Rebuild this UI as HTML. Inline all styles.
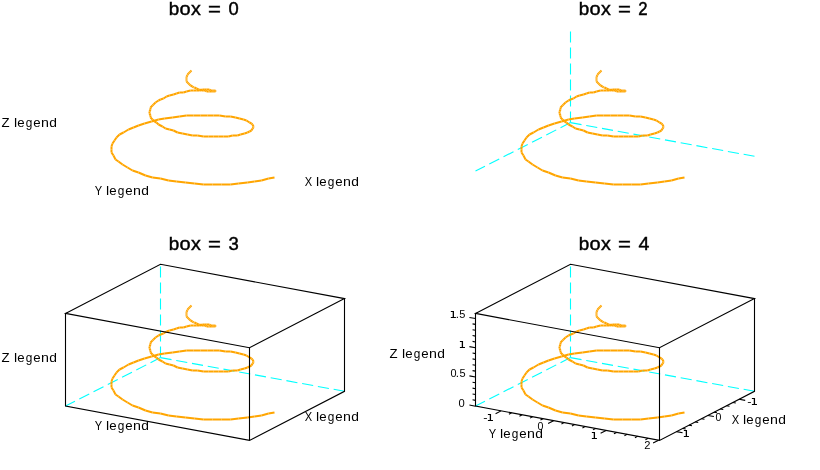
<!DOCTYPE html><html><head><meta charset="utf-8"><style>html,body{margin:0;padding:0;background:#fff;}svg{display:block;will-change:transform}text{font-family:"Liberation Sans",sans-serif;}</style></head><body>
<svg width="820" height="470" viewBox="0 0 820 470">
<rect width="820" height="470" fill="#fff"/>
<text transform="translate(168.85,14.80) scale(1.0292,1.0000)" font-size="18.30" font-weight="normal" fill="#000" stroke="#000" stroke-width="0.437">b</text>
<text transform="translate(179.46,14.80) scale(1.0914,1.0000)" font-size="18.30" font-weight="normal" fill="#000" stroke="#000" stroke-width="0.412">o</text>
<text transform="translate(191.05,14.80) scale(1.0768,1.0000)" font-size="18.30" font-weight="normal" fill="#000" stroke="#000" stroke-width="0.418">x</text>
<text transform="translate(207.98,14.80) scale(1.2080,1.0000)" font-size="18.30" font-weight="normal" fill="#000" stroke="#000" stroke-width="0.373">=</text>
<text transform="translate(228.44,14.80) scale(1.0025,1.0000)" font-size="18.30" font-weight="normal" fill="#000" stroke="#000" stroke-width="0.449">0</text>
<text transform="translate(578.85,14.80) scale(1.0292,1.0000)" font-size="18.30" font-weight="normal" fill="#000" stroke="#000" stroke-width="0.437">b</text>
<text transform="translate(589.46,14.80) scale(1.0914,1.0000)" font-size="18.30" font-weight="normal" fill="#000" stroke="#000" stroke-width="0.412">o</text>
<text transform="translate(601.05,14.80) scale(1.0768,1.0000)" font-size="18.30" font-weight="normal" fill="#000" stroke="#000" stroke-width="0.418">x</text>
<text transform="translate(617.98,14.80) scale(1.2080,1.0000)" font-size="18.30" font-weight="normal" fill="#000" stroke="#000" stroke-width="0.373">=</text>
<text transform="translate(638.31,14.80) scale(0.9152,1.0000)" font-size="18.30" font-weight="normal" fill="#000" stroke="#000" stroke-width="0.492">2</text>
<text transform="translate(168.85,249.80) scale(1.0292,1.0000)" font-size="18.30" font-weight="normal" fill="#000" stroke="#000" stroke-width="0.437">b</text>
<text transform="translate(179.46,249.80) scale(1.0914,1.0000)" font-size="18.30" font-weight="normal" fill="#000" stroke="#000" stroke-width="0.412">o</text>
<text transform="translate(191.05,249.80) scale(1.0768,1.0000)" font-size="18.30" font-weight="normal" fill="#000" stroke="#000" stroke-width="0.418">x</text>
<text transform="translate(207.98,249.80) scale(1.2080,1.0000)" font-size="18.30" font-weight="normal" fill="#000" stroke="#000" stroke-width="0.373">=</text>
<text transform="translate(228.45,249.80) scale(1.0108,1.0000)" font-size="18.30" font-weight="normal" fill="#000" stroke="#000" stroke-width="0.445">3</text>
<text transform="translate(578.85,249.80) scale(1.0292,1.0000)" font-size="18.30" font-weight="normal" fill="#000" stroke="#000" stroke-width="0.437">b</text>
<text transform="translate(589.46,249.80) scale(1.0914,1.0000)" font-size="18.30" font-weight="normal" fill="#000" stroke="#000" stroke-width="0.412">o</text>
<text transform="translate(601.05,249.80) scale(1.0768,1.0000)" font-size="18.30" font-weight="normal" fill="#000" stroke="#000" stroke-width="0.418">x</text>
<text transform="translate(617.98,249.80) scale(1.2080,1.0000)" font-size="18.30" font-weight="normal" fill="#000" stroke="#000" stroke-width="0.373">=</text>
<text transform="translate(638.58,249.80) scale(1.0703,1.0000)" font-size="18.30" font-weight="normal" fill="#000" stroke="#000" stroke-width="0.420">4</text>
<g stroke="#ffa500" stroke-width="2.0" stroke-linecap="butt"><path d="M274.5 177.5L268.5 178.5"/><path d="M268.5 178.5L261.5 180.5"/><path d="M261.5 180.5L254.5 181.5"/><path d="M254.5 181.5L247.5 182.5"/><path d="M247.5 182.5L238.5 183.5"/><path d="M238.5 183.5L230.5 184.5"/><path d="M230.5 184.5L221.5 184.5"/><path d="M221.5 184.5L212.5 184.5"/><path d="M212.5 184.5L203.5 184.5"/><path d="M203.5 184.5L194.5 183.5"/><path d="M194.5 183.5L185.5 182.5"/><path d="M185.5 182.5L176.5 181.5"/><path d="M176.5 181.5L168.5 180.5"/><path d="M168.5 180.5L160.5 178.5"/><path d="M160.5 178.5L152.5 177.5"/><path d="M152.5 177.5L145.5 175.5"/><path d="M145.5 175.5L138.5 172.5"/><path d="M138.5 172.5L132.5 170.5"/><path d="M132.5 170.5L127.5 167.5"/><path d="M127.5 167.5L122.5 164.5"/><path d="M122.5 164.5L118.5 161.5"/><path d="M118.5 161.5L115.5 159.5"/><path d="M115.5 159.5L113.5 155.5"/><path d="M113.5 155.5L111.5 152.5"/><path d="M111.5 152.5L111.5 149.5"/><path d="M111.5 149.5L111.5 146.5"/><path d="M111.5 146.5L112.5 143.5"/><path d="M112.5 143.5L114.5 140.5"/><path d="M114.5 140.5L116.5 137.5"/><path d="M116.5 137.5L119.5 134.5"/><path d="M119.5 134.5L123.5 132.5"/><path d="M123.5 132.5L128.5 129.5"/><path d="M128.5 129.5L133.5 127.5"/><path d="M133.5 127.5L138.5 125.5"/><path d="M138.5 125.5L144.5 123.5"/><path d="M144.5 123.5L151.5 121.5"/><path d="M151.5 121.5L158.5 119.5"/><path d="M158.5 119.5L164.5 118.5"/><path d="M164.5 118.5L172.5 117.5"/><path d="M172.5 117.5L179.5 116.5"/><path d="M179.5 116.5L186.5 115.5"/><path d="M186.5 115.5L193.5 115.5"/><path d="M193.5 115.5L200.5 115.5"/><path d="M200.5 115.5L207.5 115.5"/><path d="M207.5 115.5L213.5 115.5"/><path d="M213.5 115.5L219.5 115.5"/><path d="M219.5 115.5L225.5 116.5"/><path d="M225.5 116.5L230.5 116.5"/><path d="M230.5 116.5L235.5 117.5"/><path d="M235.5 117.5L239.5 118.5"/><path d="M239.5 118.5L243.5 119.5"/><path d="M243.5 119.5L246.5 120.5"/><path d="M246.5 120.5L249.5 122.5"/><path d="M249.5 122.5L251.5 123.5"/><path d="M251.5 123.5L252.5 124.5"/><path d="M252.5 124.5L253.5 126.5"/><path d="M253.5 126.5L253.5 127.5"/><path d="M253.5 127.5L252.5 128.5"/><path d="M252.5 128.5L251.5 130.5"/><path d="M251.5 130.5L249.5 131.5"/><path d="M249.5 131.5L247.5 132.5"/><path d="M247.5 132.5L244.5 133.5"/><path d="M244.5 133.5L240.5 134.5"/><path d="M240.5 134.5L237.5 135.5"/><path d="M237.5 135.5L232.5 135.5"/><path d="M232.5 135.5L228.5 136.5"/><path d="M228.5 136.5L223.5 136.5"/><path d="M223.5 136.5L218.5 136.5"/><path d="M218.5 136.5L213.5 136.5"/><path d="M213.5 136.5L208.5 136.5"/><path d="M208.5 136.5L203.5 136.5"/><path d="M203.5 136.5L197.5 135.5"/><path d="M197.5 135.5L192.5 135.5"/><path d="M192.5 135.5L187.5 134.5"/><path d="M187.5 134.5L182.5 133.5"/><path d="M182.5 133.5L177.5 132.5"/><path d="M177.5 132.5L173.5 130.5"/><path d="M173.5 130.5L169.5 129.5"/><path d="M169.5 129.5L165.5 128.5"/><path d="M165.5 128.5L162.5 126.5"/><path d="M162.5 126.5L158.5 124.5"/><path d="M158.5 124.5L156.5 122.5"/><path d="M156.5 122.5L154.5 121.5"/><path d="M154.5 121.5L152.5 119.5"/><path d="M152.5 119.5L150.5 117.5"/><path d="M150.5 117.5L150.5 115.5"/><path d="M150.5 115.5L149.5 113.5"/><path d="M149.5 113.5L149.5 111.5"/><path d="M149.5 111.5L150.5 109.5"/><path d="M150.5 109.5L150.5 107.5"/><path d="M150.5 107.5L152.5 105.5"/><path d="M152.5 105.5L153.5 104.5"/><path d="M153.5 104.5L155.5 102.5"/><path d="M155.5 102.5L158.5 100.5"/><path d="M158.5 100.5L160.5 99.5"/><path d="M160.5 99.5L163.5 98.5"/><path d="M163.5 98.5L166.5 96.5"/><path d="M166.5 96.5L169.5 95.5"/><path d="M169.5 95.5L173.5 94.5"/><path d="M173.5 94.5L176.5 93.5"/><path d="M176.5 93.5L179.5 92.5"/><path d="M179.5 92.5L183.5 92.5"/><path d="M183.5 92.5L186.5 91.5"/><path d="M186.5 91.5L190.5 90.5"/><path d="M190.5 90.5L193.5 90.5"/><path d="M193.5 90.5L196.5 90.5"/><path d="M196.5 90.5L199.5 90.5"/><path d="M199.5 90.5L202.5 89.5"/><path d="M202.5 89.5L204.5 89.5"/><path d="M204.5 89.5L206.5 89.5"/><path d="M206.5 89.5L209.5 89.5"/><path d="M209.5 89.5L210.5 90.5"/><path d="M210.5 90.5L212.5 90.5"/><path d="M212.5 90.5L213.5 90.5"/><path d="M213.5 90.5L214.5 90.5"/><path d="M214.5 90.5L215.5 90.5"/><path d="M215.5 90.5L215.5 90.5"/><path d="M215.5 90.5L215.5 91.5"/><path d="M215.5 91.5L215.5 91.5"/><path d="M215.5 91.5L214.5 91.5"/><path d="M214.5 91.5L214.5 91.5"/><path d="M214.5 91.5L213.5 91.5"/><path d="M213.5 91.5L212.5 91.5"/><path d="M212.5 91.5L211.5 91.5"/><path d="M211.5 91.5L209.5 91.5"/><path d="M209.5 91.5L208.5 91.5"/><path d="M208.5 91.5L206.5 91.5"/><path d="M206.5 91.5L205.5 90.5"/><path d="M205.5 90.5L203.5 90.5"/><path d="M203.5 90.5L201.5 90.5"/><path d="M201.5 90.5L199.5 89.5"/><path d="M199.5 89.5L198.5 89.5"/><path d="M198.5 89.5L196.5 88.5"/><path d="M196.5 88.5L194.5 87.5"/><path d="M194.5 87.5L193.5 87.5"/><path d="M193.5 87.5L192.5 86.5"/><path d="M192.5 86.5L190.5 85.5"/><path d="M190.5 85.5L189.5 84.5"/><path d="M189.5 84.5L188.5 83.5"/><path d="M188.5 83.5L188.5 83.5"/><path d="M188.5 83.5L187.5 82.5"/><path d="M187.5 82.5L186.5 81.5"/><path d="M186.5 81.5L186.5 80.5"/><path d="M186.5 80.5L186.5 79.5"/><path d="M186.5 79.5L186.5 78.5"/><path d="M186.5 78.5L186.5 77.5"/><path d="M186.5 77.5L186.5 76.5"/><path d="M186.5 76.5L186.5 76.5"/><path d="M186.5 76.5L187.5 75.5"/><path d="M187.5 75.5L187.5 74.5"/><path d="M187.5 74.5L188.5 73.5"/><path d="M188.5 73.5L188.5 73.5"/><path d="M188.5 73.5L189.5 72.5"/><path d="M189.5 72.5L190.5 71.5"/><path d="M190.5 71.5L190.5 71.5"/><path d="M190.5 71.5L191.5 70.5"/><path d="M191.5 70.5L191.5 70.5"/></g>
<path d="M570.50,122.60L570.50,29.30" stroke="#00ffff" stroke-width="1.1" stroke-dasharray="11.2 4.8" fill="none"/><path d="M570.50,122.60L475.50,171.10" stroke="#00ffff" stroke-width="1.1" stroke-dasharray="11.2 4.8" fill="none"/><path d="M570.50,122.60L754.50,156.30" stroke="#00ffff" stroke-width="1.1" stroke-dasharray="11.2 4.8" fill="none"/>
<g stroke="#ffa500" stroke-width="2.0" stroke-linecap="butt"><path d="M684.5 177.5L678.5 178.5"/><path d="M678.5 178.5L671.5 180.5"/><path d="M671.5 180.5L664.5 181.5"/><path d="M664.5 181.5L657.5 182.5"/><path d="M657.5 182.5L648.5 183.5"/><path d="M648.5 183.5L640.5 184.5"/><path d="M640.5 184.5L631.5 184.5"/><path d="M631.5 184.5L622.5 184.5"/><path d="M622.5 184.5L613.5 184.5"/><path d="M613.5 184.5L604.5 183.5"/><path d="M604.5 183.5L595.5 182.5"/><path d="M595.5 182.5L586.5 181.5"/><path d="M586.5 181.5L578.5 180.5"/><path d="M578.5 180.5L570.5 178.5"/><path d="M570.5 178.5L562.5 177.5"/><path d="M562.5 177.5L555.5 175.5"/><path d="M555.5 175.5L548.5 172.5"/><path d="M548.5 172.5L542.5 170.5"/><path d="M542.5 170.5L537.5 167.5"/><path d="M537.5 167.5L532.5 164.5"/><path d="M532.5 164.5L528.5 161.5"/><path d="M528.5 161.5L525.5 159.5"/><path d="M525.5 159.5L523.5 155.5"/><path d="M523.5 155.5L521.5 152.5"/><path d="M521.5 152.5L521.5 149.5"/><path d="M521.5 149.5L521.5 146.5"/><path d="M521.5 146.5L522.5 143.5"/><path d="M522.5 143.5L524.5 140.5"/><path d="M524.5 140.5L526.5 137.5"/><path d="M526.5 137.5L529.5 134.5"/><path d="M529.5 134.5L533.5 132.5"/><path d="M533.5 132.5L538.5 129.5"/><path d="M538.5 129.5L543.5 127.5"/><path d="M543.5 127.5L548.5 125.5"/><path d="M548.5 125.5L554.5 123.5"/><path d="M554.5 123.5L561.5 121.5"/><path d="M561.5 121.5L568.5 119.5"/><path d="M568.5 119.5L574.5 118.5"/><path d="M574.5 118.5L582.5 117.5"/><path d="M582.5 117.5L589.5 116.5"/><path d="M589.5 116.5L596.5 115.5"/><path d="M596.5 115.5L603.5 115.5"/><path d="M603.5 115.5L610.5 115.5"/><path d="M610.5 115.5L617.5 115.5"/><path d="M617.5 115.5L623.5 115.5"/><path d="M623.5 115.5L629.5 115.5"/><path d="M629.5 115.5L635.5 116.5"/><path d="M635.5 116.5L640.5 116.5"/><path d="M640.5 116.5L645.5 117.5"/><path d="M645.5 117.5L649.5 118.5"/><path d="M649.5 118.5L653.5 119.5"/><path d="M653.5 119.5L656.5 120.5"/><path d="M656.5 120.5L659.5 122.5"/><path d="M659.5 122.5L661.5 123.5"/><path d="M661.5 123.5L662.5 124.5"/><path d="M662.5 124.5L663.5 126.5"/><path d="M663.5 126.5L663.5 127.5"/><path d="M663.5 127.5L662.5 128.5"/><path d="M662.5 128.5L661.5 130.5"/><path d="M661.5 130.5L659.5 131.5"/><path d="M659.5 131.5L657.5 132.5"/><path d="M657.5 132.5L654.5 133.5"/><path d="M654.5 133.5L650.5 134.5"/><path d="M650.5 134.5L647.5 135.5"/><path d="M647.5 135.5L642.5 135.5"/><path d="M642.5 135.5L638.5 136.5"/><path d="M638.5 136.5L633.5 136.5"/><path d="M633.5 136.5L628.5 136.5"/><path d="M628.5 136.5L623.5 136.5"/><path d="M623.5 136.5L618.5 136.5"/><path d="M618.5 136.5L613.5 136.5"/><path d="M613.5 136.5L607.5 135.5"/><path d="M607.5 135.5L602.5 135.5"/><path d="M602.5 135.5L597.5 134.5"/><path d="M597.5 134.5L592.5 133.5"/><path d="M592.5 133.5L587.5 132.5"/><path d="M587.5 132.5L583.5 130.5"/><path d="M583.5 130.5L579.5 129.5"/><path d="M579.5 129.5L575.5 128.5"/><path d="M575.5 128.5L572.5 126.5"/><path d="M572.5 126.5L568.5 124.5"/><path d="M568.5 124.5L566.5 122.5"/><path d="M566.5 122.5L564.5 121.5"/><path d="M564.5 121.5L562.5 119.5"/><path d="M562.5 119.5L560.5 117.5"/><path d="M560.5 117.5L560.5 115.5"/><path d="M560.5 115.5L559.5 113.5"/><path d="M559.5 113.5L559.5 111.5"/><path d="M559.5 111.5L560.5 109.5"/><path d="M560.5 109.5L560.5 107.5"/><path d="M560.5 107.5L562.5 105.5"/><path d="M562.5 105.5L563.5 104.5"/><path d="M563.5 104.5L565.5 102.5"/><path d="M565.5 102.5L568.5 100.5"/><path d="M568.5 100.5L570.5 99.5"/><path d="M570.5 99.5L573.5 98.5"/><path d="M573.5 98.5L576.5 96.5"/><path d="M576.5 96.5L579.5 95.5"/><path d="M579.5 95.5L583.5 94.5"/><path d="M583.5 94.5L586.5 93.5"/><path d="M586.5 93.5L589.5 92.5"/><path d="M589.5 92.5L593.5 92.5"/><path d="M593.5 92.5L596.5 91.5"/><path d="M596.5 91.5L600.5 90.5"/><path d="M600.5 90.5L603.5 90.5"/><path d="M603.5 90.5L606.5 90.5"/><path d="M606.5 90.5L609.5 90.5"/><path d="M609.5 90.5L612.5 89.5"/><path d="M612.5 89.5L614.5 89.5"/><path d="M614.5 89.5L616.5 89.5"/><path d="M616.5 89.5L619.5 89.5"/><path d="M619.5 89.5L620.5 90.5"/><path d="M620.5 90.5L622.5 90.5"/><path d="M622.5 90.5L623.5 90.5"/><path d="M623.5 90.5L624.5 90.5"/><path d="M624.5 90.5L625.5 90.5"/><path d="M625.5 90.5L625.5 90.5"/><path d="M625.5 90.5L625.5 91.5"/><path d="M625.5 91.5L625.5 91.5"/><path d="M625.5 91.5L624.5 91.5"/><path d="M624.5 91.5L624.5 91.5"/><path d="M624.5 91.5L623.5 91.5"/><path d="M623.5 91.5L622.5 91.5"/><path d="M622.5 91.5L621.5 91.5"/><path d="M621.5 91.5L619.5 91.5"/><path d="M619.5 91.5L618.5 91.5"/><path d="M618.5 91.5L616.5 91.5"/><path d="M616.5 91.5L615.5 90.5"/><path d="M615.5 90.5L613.5 90.5"/><path d="M613.5 90.5L611.5 90.5"/><path d="M611.5 90.5L609.5 89.5"/><path d="M609.5 89.5L608.5 89.5"/><path d="M608.5 89.5L606.5 88.5"/><path d="M606.5 88.5L604.5 87.5"/><path d="M604.5 87.5L603.5 87.5"/><path d="M603.5 87.5L602.5 86.5"/><path d="M602.5 86.5L600.5 85.5"/><path d="M600.5 85.5L599.5 84.5"/><path d="M599.5 84.5L598.5 83.5"/><path d="M598.5 83.5L598.5 83.5"/><path d="M598.5 83.5L597.5 82.5"/><path d="M597.5 82.5L596.5 81.5"/><path d="M596.5 81.5L596.5 80.5"/><path d="M596.5 80.5L596.5 79.5"/><path d="M596.5 79.5L596.5 78.5"/><path d="M596.5 78.5L596.5 77.5"/><path d="M596.5 77.5L596.5 76.5"/><path d="M596.5 76.5L596.5 76.5"/><path d="M596.5 76.5L597.5 75.5"/><path d="M597.5 75.5L597.5 74.5"/><path d="M597.5 74.5L598.5 73.5"/><path d="M598.5 73.5L598.5 73.5"/><path d="M598.5 73.5L599.5 72.5"/><path d="M599.5 72.5L600.5 71.5"/><path d="M600.5 71.5L600.5 71.5"/><path d="M600.5 71.5L601.5 70.5"/><path d="M601.5 70.5L601.5 70.5"/></g>
<path d="M160.50,357.60L160.50,264.30" stroke="#00ffff" stroke-width="1.1" stroke-dasharray="11.2 4.8" fill="none"/><path d="M160.50,357.60L65.50,406.10" stroke="#00ffff" stroke-width="1.1" stroke-dasharray="11.2 4.8" fill="none"/><path d="M160.50,357.60L344.50,391.30" stroke="#00ffff" stroke-width="1.1" stroke-dasharray="11.2 4.8" fill="none"/>
<g stroke="#ffa500" stroke-width="2.0" stroke-linecap="butt"><path d="M274.5 412.5L268.5 413.5"/><path d="M268.5 413.5L261.5 415.5"/><path d="M261.5 415.5L254.5 416.5"/><path d="M254.5 416.5L247.5 417.5"/><path d="M247.5 417.5L238.5 418.5"/><path d="M238.5 418.5L230.5 419.5"/><path d="M230.5 419.5L221.5 419.5"/><path d="M221.5 419.5L212.5 419.5"/><path d="M212.5 419.5L203.5 419.5"/><path d="M203.5 419.5L194.5 418.5"/><path d="M194.5 418.5L185.5 417.5"/><path d="M185.5 417.5L176.5 416.5"/><path d="M176.5 416.5L168.5 415.5"/><path d="M168.5 415.5L160.5 413.5"/><path d="M160.5 413.5L152.5 412.5"/><path d="M152.5 412.5L145.5 410.5"/><path d="M145.5 410.5L138.5 407.5"/><path d="M138.5 407.5L132.5 405.5"/><path d="M132.5 405.5L127.5 402.5"/><path d="M127.5 402.5L122.5 399.5"/><path d="M122.5 399.5L118.5 396.5"/><path d="M118.5 396.5L115.5 394.5"/><path d="M115.5 394.5L113.5 390.5"/><path d="M113.5 390.5L111.5 387.5"/><path d="M111.5 387.5L111.5 384.5"/><path d="M111.5 384.5L111.5 381.5"/><path d="M111.5 381.5L112.5 378.5"/><path d="M112.5 378.5L114.5 375.5"/><path d="M114.5 375.5L116.5 372.5"/><path d="M116.5 372.5L119.5 369.5"/><path d="M119.5 369.5L123.5 367.5"/><path d="M123.5 367.5L128.5 364.5"/><path d="M128.5 364.5L133.5 362.5"/><path d="M133.5 362.5L138.5 360.5"/><path d="M138.5 360.5L144.5 358.5"/><path d="M144.5 358.5L151.5 356.5"/><path d="M151.5 356.5L158.5 354.5"/><path d="M158.5 354.5L164.5 353.5"/><path d="M164.5 353.5L172.5 352.5"/><path d="M172.5 352.5L179.5 351.5"/><path d="M179.5 351.5L186.5 350.5"/><path d="M186.5 350.5L193.5 350.5"/><path d="M193.5 350.5L200.5 350.5"/><path d="M200.5 350.5L207.5 350.5"/><path d="M207.5 350.5L213.5 350.5"/><path d="M213.5 350.5L219.5 350.5"/><path d="M219.5 350.5L225.5 351.5"/><path d="M225.5 351.5L230.5 351.5"/><path d="M230.5 351.5L235.5 352.5"/><path d="M235.5 352.5L239.5 353.5"/><path d="M239.5 353.5L243.5 354.5"/><path d="M243.5 354.5L246.5 355.5"/><path d="M246.5 355.5L249.5 357.5"/><path d="M249.5 357.5L251.5 358.5"/><path d="M251.5 358.5L252.5 359.5"/><path d="M252.5 359.5L253.5 361.5"/><path d="M253.5 361.5L253.5 362.5"/><path d="M253.5 362.5L252.5 363.5"/><path d="M252.5 363.5L251.5 365.5"/><path d="M251.5 365.5L249.5 366.5"/><path d="M249.5 366.5L247.5 367.5"/><path d="M247.5 367.5L244.5 368.5"/><path d="M244.5 368.5L240.5 369.5"/><path d="M240.5 369.5L237.5 370.5"/><path d="M237.5 370.5L232.5 370.5"/><path d="M232.5 370.5L228.5 371.5"/><path d="M228.5 371.5L223.5 371.5"/><path d="M223.5 371.5L218.5 371.5"/><path d="M218.5 371.5L213.5 371.5"/><path d="M213.5 371.5L208.5 371.5"/><path d="M208.5 371.5L203.5 371.5"/><path d="M203.5 371.5L197.5 370.5"/><path d="M197.5 370.5L192.5 370.5"/><path d="M192.5 370.5L187.5 369.5"/><path d="M187.5 369.5L182.5 368.5"/><path d="M182.5 368.5L177.5 367.5"/><path d="M177.5 367.5L173.5 365.5"/><path d="M173.5 365.5L169.5 364.5"/><path d="M169.5 364.5L165.5 363.5"/><path d="M165.5 363.5L162.5 361.5"/><path d="M162.5 361.5L158.5 359.5"/><path d="M158.5 359.5L156.5 357.5"/><path d="M156.5 357.5L154.5 356.5"/><path d="M154.5 356.5L152.5 354.5"/><path d="M152.5 354.5L150.5 352.5"/><path d="M150.5 352.5L150.5 350.5"/><path d="M150.5 350.5L149.5 348.5"/><path d="M149.5 348.5L149.5 346.5"/><path d="M149.5 346.5L150.5 344.5"/><path d="M150.5 344.5L150.5 342.5"/><path d="M150.5 342.5L152.5 340.5"/><path d="M152.5 340.5L153.5 339.5"/><path d="M153.5 339.5L155.5 337.5"/><path d="M155.5 337.5L158.5 335.5"/><path d="M158.5 335.5L160.5 334.5"/><path d="M160.5 334.5L163.5 333.5"/><path d="M163.5 333.5L166.5 331.5"/><path d="M166.5 331.5L169.5 330.5"/><path d="M169.5 330.5L173.5 329.5"/><path d="M173.5 329.5L176.5 328.5"/><path d="M176.5 328.5L179.5 327.5"/><path d="M179.5 327.5L183.5 327.5"/><path d="M183.5 327.5L186.5 326.5"/><path d="M186.5 326.5L190.5 325.5"/><path d="M190.5 325.5L193.5 325.5"/><path d="M193.5 325.5L196.5 325.5"/><path d="M196.5 325.5L199.5 325.5"/><path d="M199.5 325.5L202.5 324.5"/><path d="M202.5 324.5L204.5 324.5"/><path d="M204.5 324.5L206.5 324.5"/><path d="M206.5 324.5L209.5 324.5"/><path d="M209.5 324.5L210.5 325.5"/><path d="M210.5 325.5L212.5 325.5"/><path d="M212.5 325.5L213.5 325.5"/><path d="M213.5 325.5L214.5 325.5"/><path d="M214.5 325.5L215.5 325.5"/><path d="M215.5 325.5L215.5 325.5"/><path d="M215.5 325.5L215.5 326.5"/><path d="M215.5 326.5L215.5 326.5"/><path d="M215.5 326.5L214.5 326.5"/><path d="M214.5 326.5L214.5 326.5"/><path d="M214.5 326.5L213.5 326.5"/><path d="M213.5 326.5L212.5 326.5"/><path d="M212.5 326.5L211.5 326.5"/><path d="M211.5 326.5L209.5 326.5"/><path d="M209.5 326.5L208.5 326.5"/><path d="M208.5 326.5L206.5 326.5"/><path d="M206.5 326.5L205.5 325.5"/><path d="M205.5 325.5L203.5 325.5"/><path d="M203.5 325.5L201.5 325.5"/><path d="M201.5 325.5L199.5 324.5"/><path d="M199.5 324.5L198.5 324.5"/><path d="M198.5 324.5L196.5 323.5"/><path d="M196.5 323.5L194.5 322.5"/><path d="M194.5 322.5L193.5 322.5"/><path d="M193.5 322.5L192.5 321.5"/><path d="M192.5 321.5L190.5 320.5"/><path d="M190.5 320.5L189.5 319.5"/><path d="M189.5 319.5L188.5 318.5"/><path d="M188.5 318.5L188.5 318.5"/><path d="M188.5 318.5L187.5 317.5"/><path d="M187.5 317.5L186.5 316.5"/><path d="M186.5 316.5L186.5 315.5"/><path d="M186.5 315.5L186.5 314.5"/><path d="M186.5 314.5L186.5 313.5"/><path d="M186.5 313.5L186.5 312.5"/><path d="M186.5 312.5L186.5 311.5"/><path d="M186.5 311.5L186.5 311.5"/><path d="M186.5 311.5L187.5 310.5"/><path d="M187.5 310.5L187.5 309.5"/><path d="M187.5 309.5L188.5 308.5"/><path d="M188.5 308.5L188.5 308.5"/><path d="M188.5 308.5L189.5 307.5"/><path d="M189.5 307.5L190.5 306.5"/><path d="M190.5 306.5L190.5 306.5"/><path d="M190.5 306.5L191.5 305.5"/><path d="M191.5 305.5L191.5 305.5"/></g>
<path d="M65.50,313.40L249.50,347.70L344.50,298.60L160.50,264.30Z" stroke="#000" stroke-width="1.1" fill="none" stroke-linejoin="miter"/><path d="M65.50,313.40L65.50,406.10L249.50,440.40L344.50,391.30L344.50,298.60M249.50,347.70L249.50,440.40" stroke="#000" stroke-width="1.1" fill="none" stroke-linejoin="miter"/>
<path d="M570.50,357.60L570.50,264.30" stroke="#00ffff" stroke-width="1.1" stroke-dasharray="11.2 4.8" fill="none"/><path d="M570.50,357.60L475.50,406.10" stroke="#00ffff" stroke-width="1.1" stroke-dasharray="11.2 4.8" fill="none"/><path d="M570.50,357.60L754.50,391.30" stroke="#00ffff" stroke-width="1.1" stroke-dasharray="11.2 4.8" fill="none"/>
<g stroke="#ffa500" stroke-width="2.0" stroke-linecap="butt"><path d="M684.5 412.5L678.5 413.5"/><path d="M678.5 413.5L671.5 415.5"/><path d="M671.5 415.5L664.5 416.5"/><path d="M664.5 416.5L657.5 417.5"/><path d="M657.5 417.5L648.5 418.5"/><path d="M648.5 418.5L640.5 419.5"/><path d="M640.5 419.5L631.5 419.5"/><path d="M631.5 419.5L622.5 419.5"/><path d="M622.5 419.5L613.5 419.5"/><path d="M613.5 419.5L604.5 418.5"/><path d="M604.5 418.5L595.5 417.5"/><path d="M595.5 417.5L586.5 416.5"/><path d="M586.5 416.5L578.5 415.5"/><path d="M578.5 415.5L570.5 413.5"/><path d="M570.5 413.5L562.5 412.5"/><path d="M562.5 412.5L555.5 410.5"/><path d="M555.5 410.5L548.5 407.5"/><path d="M548.5 407.5L542.5 405.5"/><path d="M542.5 405.5L537.5 402.5"/><path d="M537.5 402.5L532.5 399.5"/><path d="M532.5 399.5L528.5 396.5"/><path d="M528.5 396.5L525.5 394.5"/><path d="M525.5 394.5L523.5 390.5"/><path d="M523.5 390.5L521.5 387.5"/><path d="M521.5 387.5L521.5 384.5"/><path d="M521.5 384.5L521.5 381.5"/><path d="M521.5 381.5L522.5 378.5"/><path d="M522.5 378.5L524.5 375.5"/><path d="M524.5 375.5L526.5 372.5"/><path d="M526.5 372.5L529.5 369.5"/><path d="M529.5 369.5L533.5 367.5"/><path d="M533.5 367.5L538.5 364.5"/><path d="M538.5 364.5L543.5 362.5"/><path d="M543.5 362.5L548.5 360.5"/><path d="M548.5 360.5L554.5 358.5"/><path d="M554.5 358.5L561.5 356.5"/><path d="M561.5 356.5L568.5 354.5"/><path d="M568.5 354.5L574.5 353.5"/><path d="M574.5 353.5L582.5 352.5"/><path d="M582.5 352.5L589.5 351.5"/><path d="M589.5 351.5L596.5 350.5"/><path d="M596.5 350.5L603.5 350.5"/><path d="M603.5 350.5L610.5 350.5"/><path d="M610.5 350.5L617.5 350.5"/><path d="M617.5 350.5L623.5 350.5"/><path d="M623.5 350.5L629.5 350.5"/><path d="M629.5 350.5L635.5 351.5"/><path d="M635.5 351.5L640.5 351.5"/><path d="M640.5 351.5L645.5 352.5"/><path d="M645.5 352.5L649.5 353.5"/><path d="M649.5 353.5L653.5 354.5"/><path d="M653.5 354.5L656.5 355.5"/><path d="M656.5 355.5L659.5 357.5"/><path d="M659.5 357.5L661.5 358.5"/><path d="M661.5 358.5L662.5 359.5"/><path d="M662.5 359.5L663.5 361.5"/><path d="M663.5 361.5L663.5 362.5"/><path d="M663.5 362.5L662.5 363.5"/><path d="M662.5 363.5L661.5 365.5"/><path d="M661.5 365.5L659.5 366.5"/><path d="M659.5 366.5L657.5 367.5"/><path d="M657.5 367.5L654.5 368.5"/><path d="M654.5 368.5L650.5 369.5"/><path d="M650.5 369.5L647.5 370.5"/><path d="M647.5 370.5L642.5 370.5"/><path d="M642.5 370.5L638.5 371.5"/><path d="M638.5 371.5L633.5 371.5"/><path d="M633.5 371.5L628.5 371.5"/><path d="M628.5 371.5L623.5 371.5"/><path d="M623.5 371.5L618.5 371.5"/><path d="M618.5 371.5L613.5 371.5"/><path d="M613.5 371.5L607.5 370.5"/><path d="M607.5 370.5L602.5 370.5"/><path d="M602.5 370.5L597.5 369.5"/><path d="M597.5 369.5L592.5 368.5"/><path d="M592.5 368.5L587.5 367.5"/><path d="M587.5 367.5L583.5 365.5"/><path d="M583.5 365.5L579.5 364.5"/><path d="M579.5 364.5L575.5 363.5"/><path d="M575.5 363.5L572.5 361.5"/><path d="M572.5 361.5L568.5 359.5"/><path d="M568.5 359.5L566.5 357.5"/><path d="M566.5 357.5L564.5 356.5"/><path d="M564.5 356.5L562.5 354.5"/><path d="M562.5 354.5L560.5 352.5"/><path d="M560.5 352.5L560.5 350.5"/><path d="M560.5 350.5L559.5 348.5"/><path d="M559.5 348.5L559.5 346.5"/><path d="M559.5 346.5L560.5 344.5"/><path d="M560.5 344.5L560.5 342.5"/><path d="M560.5 342.5L562.5 340.5"/><path d="M562.5 340.5L563.5 339.5"/><path d="M563.5 339.5L565.5 337.5"/><path d="M565.5 337.5L568.5 335.5"/><path d="M568.5 335.5L570.5 334.5"/><path d="M570.5 334.5L573.5 333.5"/><path d="M573.5 333.5L576.5 331.5"/><path d="M576.5 331.5L579.5 330.5"/><path d="M579.5 330.5L583.5 329.5"/><path d="M583.5 329.5L586.5 328.5"/><path d="M586.5 328.5L589.5 327.5"/><path d="M589.5 327.5L593.5 327.5"/><path d="M593.5 327.5L596.5 326.5"/><path d="M596.5 326.5L600.5 325.5"/><path d="M600.5 325.5L603.5 325.5"/><path d="M603.5 325.5L606.5 325.5"/><path d="M606.5 325.5L609.5 325.5"/><path d="M609.5 325.5L612.5 324.5"/><path d="M612.5 324.5L614.5 324.5"/><path d="M614.5 324.5L616.5 324.5"/><path d="M616.5 324.5L619.5 324.5"/><path d="M619.5 324.5L620.5 325.5"/><path d="M620.5 325.5L622.5 325.5"/><path d="M622.5 325.5L623.5 325.5"/><path d="M623.5 325.5L624.5 325.5"/><path d="M624.5 325.5L625.5 325.5"/><path d="M625.5 325.5L625.5 325.5"/><path d="M625.5 325.5L625.5 326.5"/><path d="M625.5 326.5L625.5 326.5"/><path d="M625.5 326.5L624.5 326.5"/><path d="M624.5 326.5L624.5 326.5"/><path d="M624.5 326.5L623.5 326.5"/><path d="M623.5 326.5L622.5 326.5"/><path d="M622.5 326.5L621.5 326.5"/><path d="M621.5 326.5L619.5 326.5"/><path d="M619.5 326.5L618.5 326.5"/><path d="M618.5 326.5L616.5 326.5"/><path d="M616.5 326.5L615.5 325.5"/><path d="M615.5 325.5L613.5 325.5"/><path d="M613.5 325.5L611.5 325.5"/><path d="M611.5 325.5L609.5 324.5"/><path d="M609.5 324.5L608.5 324.5"/><path d="M608.5 324.5L606.5 323.5"/><path d="M606.5 323.5L604.5 322.5"/><path d="M604.5 322.5L603.5 322.5"/><path d="M603.5 322.5L602.5 321.5"/><path d="M602.5 321.5L600.5 320.5"/><path d="M600.5 320.5L599.5 319.5"/><path d="M599.5 319.5L598.5 318.5"/><path d="M598.5 318.5L598.5 318.5"/><path d="M598.5 318.5L597.5 317.5"/><path d="M597.5 317.5L596.5 316.5"/><path d="M596.5 316.5L596.5 315.5"/><path d="M596.5 315.5L596.5 314.5"/><path d="M596.5 314.5L596.5 313.5"/><path d="M596.5 313.5L596.5 312.5"/><path d="M596.5 312.5L596.5 311.5"/><path d="M596.5 311.5L596.5 311.5"/><path d="M596.5 311.5L597.5 310.5"/><path d="M597.5 310.5L597.5 309.5"/><path d="M597.5 309.5L598.5 308.5"/><path d="M598.5 308.5L598.5 308.5"/><path d="M598.5 308.5L599.5 307.5"/><path d="M599.5 307.5L600.5 306.5"/><path d="M600.5 306.5L600.5 306.5"/><path d="M600.5 306.5L601.5 305.5"/><path d="M601.5 305.5L601.5 305.5"/></g>
<path d="M475.50,313.40L659.50,347.70L754.50,298.60L570.50,264.30Z" stroke="#000" stroke-width="1.1" fill="none" stroke-linejoin="miter"/><path d="M475.50,313.40L475.50,406.10L659.50,440.40L754.50,391.30L754.50,298.60M659.50,347.70L659.50,440.40" stroke="#000" stroke-width="1.1" fill="none" stroke-linejoin="miter"/>
<path d="M475.50,406.20L469.40,405.06M475.50,400.36L472.55,399.81M475.50,394.52L472.55,393.97M475.50,388.67L472.55,388.12M475.50,382.83L472.55,382.28M475.50,376.99L469.40,375.85M475.50,371.15L472.55,370.60M475.50,365.31L472.55,364.76M475.50,359.46L472.55,358.91M475.50,353.62L472.55,353.07M475.50,347.78L469.40,346.64M475.50,341.94L472.55,341.39M475.50,336.10L472.55,335.55M475.50,330.25L472.55,329.70M475.50,324.41L472.55,323.86M475.50,318.57L469.40,317.43M501.10,410.87L495.59,413.72M511.60,412.83L508.93,414.21M522.10,414.79L519.43,416.16M532.60,416.74L529.93,418.12M543.10,418.70L540.43,420.08M553.60,420.66L548.09,423.51M564.10,422.62L561.43,423.99M574.60,424.57L571.93,425.95M585.10,426.53L582.43,427.91M595.60,428.49L592.93,429.87M606.10,430.45L600.59,433.29M616.60,432.40L613.93,433.78M627.10,434.36L624.43,435.74M637.60,436.32L634.93,437.69M648.10,438.27L645.43,439.65M658.60,440.23L653.09,443.08M676.50,431.61L682.60,432.75M682.76,428.38L685.71,428.93M689.02,425.14L691.97,425.69M695.28,421.91L698.23,422.46M701.54,418.67L704.49,419.22M707.80,415.44L713.90,416.57M714.06,412.20L717.01,412.75M720.32,408.97L723.27,409.52M726.58,405.73L729.53,406.28M732.84,402.49L735.79,403.04M739.10,399.26L745.20,400.40" stroke="#000" stroke-width="1.1" fill="none"/>
<text transform="translate(1.41,126.90) scale(1.0012,1.0000)" font-size="13.20" font-weight="normal" fill="#000">Z</text>
<text transform="translate(13.89,126.90) scale(1.0774,1.0000)" font-size="13.20" font-weight="normal" fill="#000">l</text>
<text transform="translate(17.37,126.90) scale(1.0042,1.0000)" font-size="13.20" font-weight="normal" fill="#000">e</text>
<text transform="translate(25.84,126.90) scale(0.8962,1.0000)" font-size="13.20" font-weight="normal" fill="#000">g</text>
<text transform="translate(33.29,126.90) scale(1.0042,1.0000)" font-size="13.20" font-weight="normal" fill="#000">e</text>
<text transform="translate(40.96,126.90) scale(1.0771,1.0000)" font-size="13.20" font-weight="normal" fill="#000">n</text>
<text transform="translate(49.37,126.90) scale(1.0478,1.0000)" font-size="13.20" font-weight="normal" fill="#000">d</text>
<text transform="translate(1.41,361.90) scale(1.0012,1.0000)" font-size="13.20" font-weight="normal" fill="#000">Z</text>
<text transform="translate(13.89,361.90) scale(1.0774,1.0000)" font-size="13.20" font-weight="normal" fill="#000">l</text>
<text transform="translate(17.37,361.90) scale(1.0042,1.0000)" font-size="13.20" font-weight="normal" fill="#000">e</text>
<text transform="translate(25.84,361.90) scale(0.8962,1.0000)" font-size="13.20" font-weight="normal" fill="#000">g</text>
<text transform="translate(33.29,361.90) scale(1.0042,1.0000)" font-size="13.20" font-weight="normal" fill="#000">e</text>
<text transform="translate(40.96,361.90) scale(1.0771,1.0000)" font-size="13.20" font-weight="normal" fill="#000">n</text>
<text transform="translate(49.37,361.90) scale(1.0478,1.0000)" font-size="13.20" font-weight="normal" fill="#000">d</text>
<text transform="translate(389.41,357.90) scale(1.0012,1.0000)" font-size="13.20" font-weight="normal" fill="#000">Z</text>
<text transform="translate(401.89,357.90) scale(1.0774,1.0000)" font-size="13.20" font-weight="normal" fill="#000">l</text>
<text transform="translate(405.37,357.90) scale(1.0042,1.0000)" font-size="13.20" font-weight="normal" fill="#000">e</text>
<text transform="translate(413.84,357.90) scale(0.8962,1.0000)" font-size="13.20" font-weight="normal" fill="#000">g</text>
<text transform="translate(421.29,357.90) scale(1.0042,1.0000)" font-size="13.20" font-weight="normal" fill="#000">e</text>
<text transform="translate(428.96,357.90) scale(1.0771,1.0000)" font-size="13.20" font-weight="normal" fill="#000">n</text>
<text transform="translate(437.37,357.90) scale(1.0478,1.0000)" font-size="13.20" font-weight="normal" fill="#000">d</text>
<text transform="translate(94.76,194.90) scale(0.8451,1.0000)" font-size="13.20" font-weight="normal" fill="#000">Y</text>
<text transform="translate(105.89,194.90) scale(1.0774,1.0000)" font-size="13.20" font-weight="normal" fill="#000">l</text>
<text transform="translate(109.37,194.90) scale(1.0042,1.0000)" font-size="13.20" font-weight="normal" fill="#000">e</text>
<text transform="translate(117.84,194.90) scale(0.8962,1.0000)" font-size="13.20" font-weight="normal" fill="#000">g</text>
<text transform="translate(125.29,194.90) scale(1.0042,1.0000)" font-size="13.20" font-weight="normal" fill="#000">e</text>
<text transform="translate(132.96,194.90) scale(1.0771,1.0000)" font-size="13.20" font-weight="normal" fill="#000">n</text>
<text transform="translate(141.37,194.90) scale(1.0478,1.0000)" font-size="13.20" font-weight="normal" fill="#000">d</text>
<text transform="translate(94.76,429.90) scale(0.8451,1.0000)" font-size="13.20" font-weight="normal" fill="#000">Y</text>
<text transform="translate(105.89,429.90) scale(1.0774,1.0000)" font-size="13.20" font-weight="normal" fill="#000">l</text>
<text transform="translate(109.37,429.90) scale(1.0042,1.0000)" font-size="13.20" font-weight="normal" fill="#000">e</text>
<text transform="translate(117.84,429.90) scale(0.8962,1.0000)" font-size="13.20" font-weight="normal" fill="#000">g</text>
<text transform="translate(125.29,429.90) scale(1.0042,1.0000)" font-size="13.20" font-weight="normal" fill="#000">e</text>
<text transform="translate(132.96,429.90) scale(1.0771,1.0000)" font-size="13.20" font-weight="normal" fill="#000">n</text>
<text transform="translate(141.37,429.90) scale(1.0478,1.0000)" font-size="13.20" font-weight="normal" fill="#000">d</text>
<text transform="translate(488.76,437.90) scale(0.8451,1.0000)" font-size="13.20" font-weight="normal" fill="#000">Y</text>
<text transform="translate(499.89,437.90) scale(1.0774,1.0000)" font-size="13.20" font-weight="normal" fill="#000">l</text>
<text transform="translate(503.37,437.90) scale(1.0042,1.0000)" font-size="13.20" font-weight="normal" fill="#000">e</text>
<text transform="translate(511.84,437.90) scale(0.8962,1.0000)" font-size="13.20" font-weight="normal" fill="#000">g</text>
<text transform="translate(519.29,437.90) scale(1.0042,1.0000)" font-size="13.20" font-weight="normal" fill="#000">e</text>
<text transform="translate(526.96,437.90) scale(1.0771,1.0000)" font-size="13.20" font-weight="normal" fill="#000">n</text>
<text transform="translate(535.37,437.90) scale(1.0478,1.0000)" font-size="13.20" font-weight="normal" fill="#000">d</text>
<text transform="translate(304.76,185.90) scale(0.8444,1.0000)" font-size="13.20" font-weight="normal" fill="#000">X</text>
<text transform="translate(315.89,185.90) scale(1.0774,1.0000)" font-size="13.20" font-weight="normal" fill="#000">l</text>
<text transform="translate(319.37,185.90) scale(1.0042,1.0000)" font-size="13.20" font-weight="normal" fill="#000">e</text>
<text transform="translate(327.84,185.90) scale(0.8962,1.0000)" font-size="13.20" font-weight="normal" fill="#000">g</text>
<text transform="translate(335.29,185.90) scale(1.0042,1.0000)" font-size="13.20" font-weight="normal" fill="#000">e</text>
<text transform="translate(342.96,185.90) scale(1.0771,1.0000)" font-size="13.20" font-weight="normal" fill="#000">n</text>
<text transform="translate(351.37,185.90) scale(1.0478,1.0000)" font-size="13.20" font-weight="normal" fill="#000">d</text>
<text transform="translate(304.76,420.90) scale(0.8444,1.0000)" font-size="13.20" font-weight="normal" fill="#000">X</text>
<text transform="translate(315.89,420.90) scale(1.0774,1.0000)" font-size="13.20" font-weight="normal" fill="#000">l</text>
<text transform="translate(319.37,420.90) scale(1.0042,1.0000)" font-size="13.20" font-weight="normal" fill="#000">e</text>
<text transform="translate(327.84,420.90) scale(0.8962,1.0000)" font-size="13.20" font-weight="normal" fill="#000">g</text>
<text transform="translate(335.29,420.90) scale(1.0042,1.0000)" font-size="13.20" font-weight="normal" fill="#000">e</text>
<text transform="translate(342.96,420.90) scale(1.0771,1.0000)" font-size="13.20" font-weight="normal" fill="#000">n</text>
<text transform="translate(351.37,420.90) scale(1.0478,1.0000)" font-size="13.20" font-weight="normal" fill="#000">d</text>
<text transform="translate(731.76,423.90) scale(0.8444,1.0000)" font-size="13.20" font-weight="normal" fill="#000">X</text>
<text transform="translate(742.89,423.90) scale(1.0774,1.0000)" font-size="13.20" font-weight="normal" fill="#000">l</text>
<text transform="translate(746.37,423.90) scale(1.0042,1.0000)" font-size="13.20" font-weight="normal" fill="#000">e</text>
<text transform="translate(754.84,423.90) scale(0.8962,1.0000)" font-size="13.20" font-weight="normal" fill="#000">g</text>
<text transform="translate(762.29,423.90) scale(1.0042,1.0000)" font-size="13.20" font-weight="normal" fill="#000">e</text>
<text transform="translate(769.96,423.90) scale(1.0771,1.0000)" font-size="13.20" font-weight="normal" fill="#000">n</text>
<text transform="translate(778.37,423.90) scale(1.0478,1.0000)" font-size="13.20" font-weight="normal" fill="#000">d</text>
<path d="M450.83,311.00h2.10v0.95h-2.1zM452.68,311.00h1.3v7.0h-1.3zM450.83,317.05H455.90V318.00H450.83z" fill="#000"/>
<text transform="translate(455.85,318.00) scale(1.1326,1.0000)" font-size="10.20" font-weight="normal" fill="#000">.</text>
<text transform="translate(459.33,318.00) scale(1.0794,1.0000)" font-size="10.20" font-weight="normal" fill="#000">5</text>
<path d="M459.90,341.00h2.10v0.95h-2.1zM461.75,341.00h1.3v7.0h-1.3zM459.90,347.05H464.97V348.00H459.90z" fill="#000"/>
<text transform="translate(450.40,376.80) scale(1.0706,1.0000)" font-size="10.20" font-weight="normal" fill="#000">0</text>
<text transform="translate(455.85,377.00) scale(1.1326,1.0000)" font-size="10.20" font-weight="normal" fill="#000">.</text>
<text transform="translate(459.48,377.00) scale(1.0794,1.0000)" font-size="10.20" font-weight="normal" fill="#000">5</text>
<text transform="translate(458.42,406.80) scale(1.0993,1.0000)" font-size="10.20" font-weight="normal" fill="#000">0</text>
<text transform="translate(483.30,421.00) scale(1.2569,1.0000)" font-size="10.20" font-weight="normal" fill="#000">-</text>
<path d="M487.90,414.00h2.10v0.95h-2.1zM489.75,414.00h1.3v7.0h-1.3zM487.90,420.05H492.97V421.00H487.90z" fill="#000"/>
<text transform="translate(537.46,429.80) scale(1.0398,1.0000)" font-size="10.20" font-weight="normal" fill="#000">0</text>
<path d="M591.87,432.00h2.10v0.95h-2.1zM593.72,432.00h1.3v7.0h-1.3zM591.87,438.05H596.94V439.00H591.87z" fill="#000"/>
<text transform="translate(644.34,449.00) scale(1.0932,1.0000)" font-size="10.20" font-weight="normal" fill="#000">2</text>
<path d="M683.87,430.00h2.10v0.95h-2.1zM685.72,430.00h1.3v7.0h-1.3zM683.87,436.05H688.94V437.00H683.87z" fill="#000"/>
<text transform="translate(715.46,420.80) scale(1.0398,1.0000)" font-size="10.20" font-weight="normal" fill="#000">0</text>
<text transform="translate(747.30,405.00) scale(1.2569,1.0000)" font-size="10.20" font-weight="normal" fill="#000">-</text>
<path d="M751.90,398.00h2.10v0.95h-2.1zM753.75,398.00h1.3v7.0h-1.3zM751.90,404.05H756.97V405.00H751.90z" fill="#000"/>
</svg></body></html>
